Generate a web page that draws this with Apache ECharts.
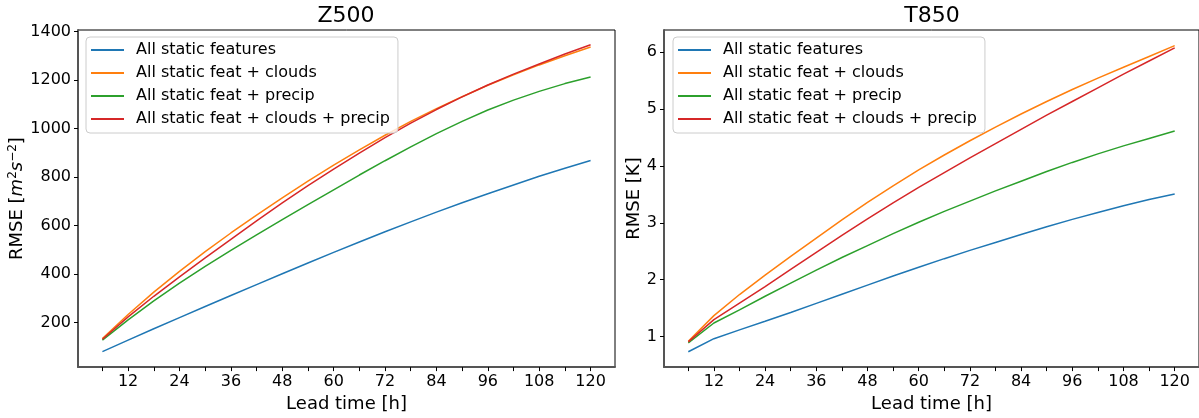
<!DOCTYPE html>
<html>
<head>
<meta charset="utf-8">
<script src="https://cdn.jsdelivr.net/npm/echarts@6/dist/echarts.min.js"></script>
<style>
  body { margin: 0; background: #fff; }
  #main { width: 1199px; height: 418px; }
</style>
</head>
<body>
<div id="main"></div>
<script>
// lead times (hours)
const leadTimes = [6, 12, 18, 24, 30, 36, 42, 48, 54, 60, 66, 72, 78, 84, 90, 96, 102, 108, 114, 120]
const tickHours = leadTimes
const labelHours = [12, 24, 36, 48, 60, 72, 84, 96, 108, 120]
const z500Ticks = [200, 400, 600, 800, 1000, 1200, 1400]
const t850Ticks = [1, 2, 3, 4, 5, 6]

const seriesNames = ['All static features', 'All static feat + clouds', 'All static feat + precip', 'All static feat + clouds + precip']
const colors = ['#1f77b4', '#ff7f0e', '#2ca02c', '#d62728']

// Z500 RMSE [m2 s-2]
const z500Static = [81, 128, 175, 221, 267, 312, 357, 402, 446, 490, 533, 575, 616, 656, 695, 732, 768, 804, 837, 869]
const z500Clouds = [135, 234, 326, 412, 493, 570, 644, 715, 784, 850, 913, 973, 1030, 1083, 1132, 1179, 1222, 1263, 1301, 1337]
const z500Precip = [128, 212, 290, 363, 432, 498, 562, 625, 687, 748, 809, 868, 925, 980, 1030, 1077, 1118, 1154, 1186, 1213]
const z500CloudsPrecip = [132, 224, 309, 389, 467, 544, 620, 694, 765, 833, 899, 963, 1023, 1079, 1131, 1180, 1225, 1267, 1308, 1346]

// T850 RMSE [K]
const t850Static = [0.735, 0.965, 1.12, 1.27, 1.425, 1.585, 1.745, 1.905, 2.065, 2.22, 2.37, 2.515, 2.655, 2.795, 2.93, 3.06, 3.18, 3.30, 3.41, 3.505]
const t850Clouds = [0.92, 1.37, 1.74, 2.08, 2.41, 2.73, 3.05, 3.36, 3.65, 3.93, 4.19, 4.44, 4.68, 4.91, 5.13, 5.34, 5.54, 5.73, 5.92, 6.11]
const t850Precip = [0.89, 1.24, 1.47, 1.71, 1.94, 2.17, 2.39, 2.60, 2.81, 3.01, 3.20, 3.38, 3.56, 3.73, 3.90, 4.06, 4.21, 4.35, 4.48, 4.61]
const t850CloudsPrecip = [0.91, 1.30, 1.59, 1.88, 2.18, 2.48, 2.78, 3.07, 3.35, 3.62, 3.88, 4.14, 4.39, 4.64, 4.89, 5.13, 5.37, 5.61, 5.84, 6.07]

const font = 'DejaVu Sans'

function pairs(values) {
  return leadTimes.map((t, i) => [t, values[i]])
}

function makeSeries(panel, list) {
  return list.map((vals, i) => ({
    name: seriesNames[i],
    type: 'line',
    xAxisIndex: panel,
    yAxisIndex: panel,
    data: pairs(vals),
    showSymbol: false,
    symbol: 'none',
    silent: true,
    animation: false,
    lineStyle: { color: colors[i], width: 1.5 },
    itemStyle: { color: colors[i] }
  }))
}

function xAxisFor(idx) {
  return {
    gridIndex: idx,
    type: 'value',
    min: 0.3,
    max: 125.7,
    name: 'Lead time [h]',
    nameLocation: 'middle',
    nameGap: 25,
    nameTextStyle: { fontSize: 18, color: '#000', fontFamily: font },
    axisLine: { show: true, onZero: false, lineStyle: { color: '#555', width: 2 } },
    axisTick: { show: true, length: 4, lineStyle: { color: '#000', width: 1 }, customValues: tickHours },
    axisLabel: { customValues: labelHours, fontSize: 16, color: '#000', fontFamily: font, margin: 7 },
    splitLine: { show: false }
  }
}

function legendFor(left) {
  return {
    orient: 'vertical',
    left: left,
    top: 37,
    data: seriesNames,
    icon: 'rect',
    itemWidth: 33,
    itemHeight: 2,
    itemGap: 5,
    padding: [4, 8, 5, 5],
    backgroundColor: 'rgba(255,255,255,0.8)',
    borderColor: '#cccccc',
    borderWidth: 1,
    borderRadius: 4,
    selectedMode: false,
    textStyle: { fontSize: 16, color: '#000', fontFamily: font, lineHeight: 18, padding: [0, 0, 0, 7] }
  }
}

const chart = echarts.init(document.getElementById('main'))

const option = {
  backgroundColor: '#fff',
  animation: false,
  title: [
    { text: 'Z500', left: 341, top: 0, textAlign: 'center', textStyle: { fontSize: 22, fontWeight: 'normal', color: '#000', fontFamily: font } },
    { text: 'T850', left: 927, top: 0, textAlign: 'center', textStyle: { fontSize: 22, fontWeight: 'normal', color: '#000', fontFamily: font } }
  ],
  legend: [legendFor(86), legendFor(673)],
  grid: [
    { left: 78, top: 30, width: 537, height: 342, show: true, borderColor: '#000', borderWidth: 1 },
    { left: 664, top: 30, width: 537, height: 342, show: true, borderColor: '#000', borderWidth: 1 }
  ],
  xAxis: [xAxisFor(0), xAxisFor(1)],
  yAxis: [
    {
      gridIndex: 0,
      type: 'value',
      min: 17,
      max: 1407,
      name: 'RMSE [{i|m}{s|2}{i|s}{s|−2}]',
      nameLocation: 'middle',
      nameGap: 45,
      nameTextStyle: {
        fontSize: 18, color: '#000', fontFamily: font,
        rich: {
          i: { fontSize: 18, fontStyle: 'italic', color: '#000', fontFamily: font },
          s: { fontSize: 12, color: '#000', fontFamily: font, padding: [0, 0, 9, 0] }
        }
      },
      axisLine: { show: true, onZero: false, lineStyle: { color: '#555', width: 2 } },
      axisTick: { show: true, length: 4, lineStyle: { color: '#000' }, customValues: z500Ticks },
      axisLabel: { customValues: z500Ticks, formatter: v => String(v), fontSize: 16, color: '#000', fontFamily: font, margin: 7 },
      splitLine: { show: false }
    },
    {
      gridIndex: 1,
      type: 'value',
      min: 0.466,
      max: 6.385,
      name: 'RMSE [K]',
      nameLocation: 'middle',
      nameGap: 16,
      nameTextStyle: { fontSize: 18, color: '#000', fontFamily: font },
      axisLine: { show: true, onZero: false, lineStyle: { color: '#555', width: 2 } },
      axisTick: { show: true, length: 4, lineStyle: { color: '#000' }, customValues: t850Ticks },
      axisLabel: { customValues: t850Ticks, formatter: v => String(v), fontSize: 16, color: '#000', fontFamily: font, margin: 7 },
      splitLine: { show: false }
    }
  ],
  series: [
    ...makeSeries(0, [z500Static, z500Clouds, z500Precip, z500CloudsPrecip]),
    ...makeSeries(1, [t850Static, t850Clouds, t850Precip, t850CloudsPrecip])
  ]
}

chart.setOption(option)
</script>
</body>
</html>
